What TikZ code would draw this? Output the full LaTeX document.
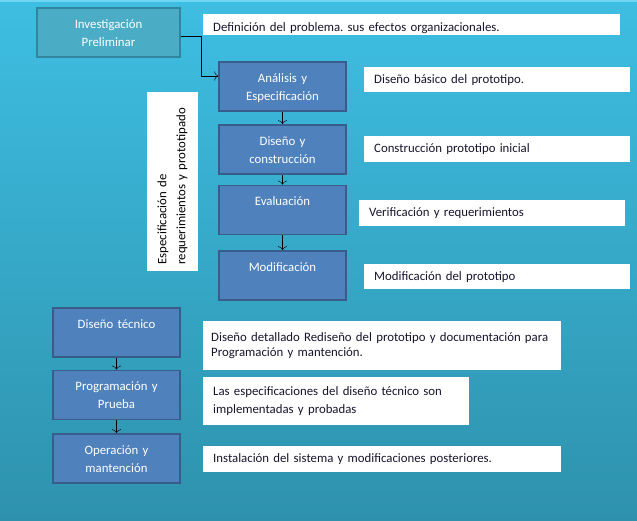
\documentclass[tikz,border=0pt]{standalone}
\usepackage{fontspec}
\setmainfont{Carlito}
\frenchspacing
\usetikzlibrary{arrows.meta}
\definecolor{bgtop}{RGB}{62,190,226}
\definecolor{bgbot}{RGB}{46,146,173}
\definecolor{bgedge}{RGB}{110,214,240}
\definecolor{tealfill}{RGB}{75,172,198}
\definecolor{tealline}{RGB}{49,133,156}
\definecolor{bluefill}{RGB}{79,129,189}
\definecolor{blueline}{RGB}{56,93,138}
\definecolor{notetext}{RGB}{25,20,45}
\begin{document}
\begin{tikzpicture}[x=1pt, y=-1pt, >={To[length=4pt, width=9pt]},
   phase/.style={draw=blueline, fill=bluefill, line width=1.6pt, text=white,
      font=\fontsize{12.8}{18}\selectfont, minimum width=127pt, text width=122pt,
      align=center, inner xsep=2pt, inner ysep=5pt, text height=15pt, text depth=24pt},
   prelim/.style={phase, draw=tealline, fill=tealfill, minimum width=143pt},
   note/.style 2 args={fill=white, text=notetext, anchor=north west, align=left,
      font=\fontsize{12.8}{18}\selectfont, inner xsep=10pt, inner ysep=0pt,
      text width=#1, minimum height=#2}]
%
\useasboundingbox (0,0) rectangle (637,520);
\shade[top color=bgtop, bottom color=bgbot] (0,0) rectangle (637,520);
\fill[bgedge] (0,0) rectangle (637,2);
%
             \node [prelim] at (108.5,32.5) (inv) {Investigación\\Preliminar};
             \node [phase] at (282.5,86.5) (ana) {Análisis y\\Especificación};
             \node [phase] at (282.5,149.5) (dis) {Diseño y\\construcción};
             \node [phase] at (282.5,210) (eva) {Evaluación};
             \node [phase] at (282.5,275.5) (mod) {Modificación};
             \node [phase] at (116.5,332.5) (tec) {Diseño técnico};
             \node [phase] at (116.5,395) (pro) {Programación y\\Prueba};
             \node [phase] at (116.5,458.5) (ope) {Operación y\\mantención};
%
             \node [fill=white, rotate=90, minimum width=179pt, minimum height=51pt,
                text width=166pt, align=left, font=\fontsize{12.8}{19}\selectfont]
                at (172.5,181.5) (spec) {Especificación de\\requerimientos y prototipado};
%
             \node [note={397pt}{21pt}, text height=16pt, text depth=2pt] at (203,14) (n inv)
                {Definición del problema. sus efectos organizacionales.};
             \node [note={246pt}{25pt}] at (364,67) (n ana) {Diseño básico del prototipo.};
             \node [note={246pt}{26pt}] at (364,136) (n dis) {Construcción prototipo inicial};
             \node [note={246pt}{26pt}] at (359,200) (n eva) {Verificación y requerimientos};
             \node [note={246pt}{25pt}] at (364,264) (n mod) {Modificación del prototipo};
             \node [note={342pt}{49pt}, inner xsep=8pt, font=\fontsize{12.8}{15}\selectfont] at (203,321) (n tec)
                {Diseño detallado Rediseño del prototipo y documentación para\\Programación y mantención.};
             \node [note={246pt}{48pt}] at (203,377) (n pro)
                {Las especificaciones del diseño técnico son\\implementadas y probadas};
             \node [note={338pt}{26pt}] at (203,446) (n ope)
                {Instalación del sistema y modificaciones posteriores.};
%
\draw[->, thin] ([yshift=-3.5pt]inv.east) -- ++(20,0) |- ([yshift=10.5pt]ana.west);
\draw[->, thin] (ana) -- (dis);
\draw[->, thin] (dis) -- (eva);
\draw[->, thin] (eva) -- (mod);
\draw[->, thin] (tec) -- (pro);
\draw[->, thin] (pro) -- (ope);
\end{tikzpicture}
\end{document}
